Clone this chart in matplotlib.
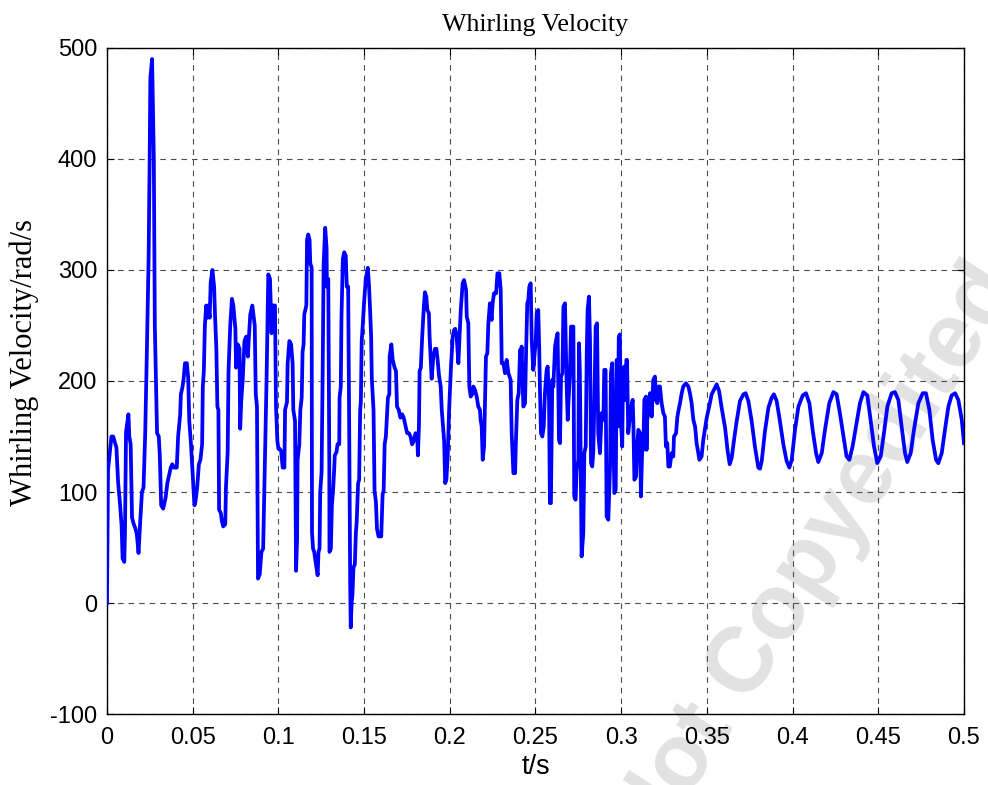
import matplotlib
matplotlib.use("Agg")
import matplotlib.pyplot as plt
import numpy as np

# (t [s], whirling velocity [rad/s]), by time window
seg_0_005 = [
    (0.0000, 0), (0.0006, 120), (0.0026, 150), (0.0036, 150), (0.0055, 140), (0.0065, 108),
    (0.0075, 91), (0.0085, 70), (0.0091, 40), (0.0101, 37), (0.0105, 65), (0.0111, 154),
    (0.0125, 170), (0.0130, 150), (0.0138, 143), (0.0146, 77), (0.0154, 72), (0.0166, 67),
    (0.0174, 62), (0.0184, 45), (0.0194, 74), (0.0204, 100), (0.0213, 104), (0.0223, 153),
    (0.0233, 230), (0.0243, 313), (0.0249, 403), (0.0253, 473), (0.0263, 490), (0.0273, 403),
    (0.0279, 250), (0.0292, 153), (0.0302, 150), (0.0308, 133), (0.0316, 88), (0.0328, 85),
    (0.0342, 95), (0.0352, 108), (0.0362, 115), (0.0372, 122), (0.0381, 125), (0.0391, 122),
    (0.0407, 122), (0.0415, 150), (0.0427, 170), (0.0431, 188), (0.0441, 195), (0.0447, 202),
    (0.0455, 216), (0.0466, 216), (0.0474, 202), (0.0480, 164), (0.0490, 143), (0.0500, 115),
    (0.0510, 88),
]
seg_005_010 = [
    (0.0516, 91), (0.0526, 104), (0.0536, 125), (0.0545, 129), (0.0555, 143), (0.0559, 195),
    (0.0565, 209), (0.0571, 250), (0.0579, 268), (0.0585, 257), (0.0591, 268), (0.0599, 257),
    (0.0605, 289), (0.0615, 300), (0.0625, 285), (0.0630, 260), (0.0638, 229), (0.0644, 177),
    (0.0650, 174), (0.0654, 84), (0.0664, 81), (0.0670, 74), (0.0678, 69), (0.0690, 71),
    (0.0694, 104), (0.0704, 136), (0.0709, 209), (0.0719, 250), (0.0729, 274), (0.0737, 268),
    (0.0749, 247), (0.0753, 212), (0.0763, 233), (0.0773, 229), (0.0777, 157), (0.0783, 181),
    (0.0792, 202), (0.0802, 236), (0.0812, 240), (0.0822, 222), (0.0828, 240), (0.0836, 260),
    (0.0848, 268), (0.0862, 250), (0.0868, 188), (0.0875, 177), (0.0881, 22), (0.0891, 26),
    (0.0901, 46), (0.0911, 49), (0.0921, 125), (0.0931, 202), (0.0941, 296), (0.0951, 292),
    (0.0960, 243), (0.0966, 268), (0.0980, 268), (0.0986, 177), (0.0994, 146), (0.1000, 139),
]
seg_010_015 = [
    (0.1006, 139), (0.1016, 137), (0.1025, 122), (0.1035, 122), (0.1039, 174), (0.1050, 181),
    (0.1054, 216), (0.1064, 236), (0.1074, 233), (0.1083, 216), (0.1087, 174), (0.1097, 164),
    (0.1103, 29), (0.1109, 57), (0.1112, 129), (0.1122, 143), (0.1128, 174), (0.1136, 185),
    (0.1141, 226), (0.1147, 233), (0.1151, 260), (0.1157, 264), (0.1163, 268), (0.1167, 327),
    (0.1174, 332), (0.1182, 327), (0.1186, 306), (0.1194, 302), (0.1196, 64), (0.1202, 49),
    (0.1209, 46), (0.1219, 35), (0.1229, 25), (0.1234, 46), (0.1240, 49), (0.1244, 100),
    (0.1252, 118), (0.1258, 205), (0.1264, 306), (0.1267, 316), (0.1273, 338), (0.1281, 320),
    (0.1283, 285), (0.1291, 292), (0.1297, 125), (0.1298, 46), (0.1306, 49), (0.1312, 88),
    (0.1320, 104), (0.1326, 122), (0.1329, 133), (0.1339, 136), (0.1345, 143), (0.1355, 143),
    (0.1357, 185), (0.1364, 195), (0.1368, 257), (0.1376, 310), (0.1384, 316), (0.1393, 313),
    (0.1399, 285), (0.1407, 285), (0.1413, 160), (0.1419, 14), (0.1422, -22), (0.1428, 2),
    (0.1432, 7), (0.1438, 32), (0.1446, 35), (0.1452, 63), (0.1457, 74), (0.1465, 108),
    (0.1471, 111), (0.1477, 174), (0.1481, 181), (0.1486, 236), (0.1492, 250), (0.1500, 271),
    (0.1510, 292),
]
seg_015_020 = [
    (0.1522, 302), (0.1529, 285), (0.1535, 264), (0.1541, 240), (0.1545, 202), (0.1555, 174),
    (0.1561, 101), (0.1569, 91), (0.1575, 67), (0.1584, 60), (0.1600, 60), (0.1608, 98),
    (0.1614, 101), (0.1620, 143), (0.1627, 150), (0.1633, 167), (0.1639, 185), (0.1647, 188),
    (0.1649, 222), (0.1659, 233), (0.1667, 219), (0.1678, 212), (0.1686, 209), (0.1692, 177),
    (0.1702, 174), (0.1712, 167), (0.1722, 170), (0.1731, 167), (0.1741, 160), (0.1751, 153),
    (0.1761, 153), (0.1771, 150), (0.1780, 143), (0.1790, 146), (0.1800, 153), (0.1810, 150),
    (0.1814, 133), (0.1820, 160), (0.1824, 209), (0.1831, 212), (0.1839, 240), (0.1849, 268),
    (0.1855, 280), (0.1863, 276), (0.1869, 264), (0.1878, 261), (0.1882, 240), (0.1888, 222),
    (0.1894, 202), (0.1904, 222), (0.1914, 229), (0.1922, 229), (0.1929, 219), (0.1937, 205),
    (0.1947, 195), (0.1953, 174), (0.1967, 146), (0.1973, 108), (0.1980, 111), (0.1988, 133),
    (0.1996, 174),
]
seg_020_025 = [
    (0.2007, 213), (0.2017, 240), (0.2025, 246), (0.2032, 247), (0.2040, 240), (0.2050, 216),
    (0.2056, 237), (0.2064, 264), (0.2075, 288), (0.2083, 291), (0.2095, 282), (0.2099, 258),
    (0.2108, 252), (0.2114, 195), (0.2122, 186), (0.2134, 189), (0.2137, 195), (0.2147, 192),
    (0.2157, 186), (0.2166, 177), (0.2176, 174), (0.2180, 165), (0.2186, 159), (0.2192, 129),
    (0.2200, 141), (0.2205, 177), (0.2211, 222), (0.2219, 225), (0.2225, 252), (0.2234, 270),
    (0.2244, 255), (0.2250, 270), (0.2258, 279), (0.2270, 279), (0.2278, 297), (0.2289, 297),
    (0.2297, 282), (0.2303, 216), (0.2313, 216), (0.2322, 207), (0.2332, 219), (0.2342, 207),
    (0.2355, 201), (0.2361, 153), (0.2371, 117), (0.2381, 117), (0.2386, 147), (0.2394, 183),
    (0.2402, 189), (0.2410, 228), (0.2414, 213), (0.2419, 231), (0.2429, 177), (0.2439, 180),
    (0.2445, 225), (0.2452, 270), (0.2458, 273), (0.2464, 285), (0.2472, 288), (0.2478, 237),
    (0.2487, 210), (0.2497, 228),
]
seg_025_030 = [
    (0.2501, 234), (0.2507, 261), (0.2516, 264), (0.2522, 228), (0.2526, 192), (0.2532, 153),
    (0.2540, 150), (0.2548, 159), (0.2555, 189), (0.2565, 210), (0.2571, 213), (0.2579, 183),
    (0.2584, 90), (0.2590, 90), (0.2598, 201), (0.2604, 195), (0.2614, 231), (0.2624, 240),
    (0.2629, 243), (0.2637, 147), (0.2643, 144), (0.2649, 204), (0.2657, 207), (0.2663, 267),
    (0.2672, 270), (0.2682, 195), (0.2688, 165), (0.2691, 177), (0.2701, 207), (0.2707, 249),
    (0.2721, 249), (0.2726, 96), (0.2734, 93), (0.2740, 120), (0.2750, 129), (0.2754, 234),
    (0.2759, 207), (0.2769, 42), (0.2779, 63), (0.2785, 135), (0.2793, 141), (0.2799, 225),
    (0.2804, 264), (0.2812, 276), (0.2818, 237), (0.2824, 126), (0.2831, 123), (0.2837, 135),
    (0.2843, 177), (0.2851, 249), (0.2859, 252), (0.2866, 153), (0.2876, 135), (0.2886, 171),
    (0.2896, 165), (0.2901, 210), (0.2909, 210), (0.2915, 78), (0.2925, 75), (0.2935, 123),
    (0.2940, 207), (0.2948, 216), (0.2960, 99), (0.2968, 102),
]
seg_030_035 = [
    (0.2974, 219), (0.2980, 159), (0.2986, 240), (0.2992, 242), (0.3000, 159), (0.3006, 141),
    (0.3011, 210), (0.3018, 213), (0.3024, 183), (0.3030, 219), (0.3034, 219), (0.3041, 153),
    (0.3047, 162), (0.3055, 174), (0.3067, 183), (0.3071, 162), (0.3077, 111), (0.3087, 114),
    (0.3094, 144), (0.3100, 156), (0.3110, 153), (0.3115, 96), (0.3123, 141), (0.3129, 138),
    (0.3135, 183), (0.3145, 186), (0.3148, 138), (0.3152, 165), (0.3158, 171), (0.3168, 189),
    (0.3178, 168), (0.3187, 201), (0.3197, 204), (0.3203, 183), (0.3211, 180), (0.3217, 195),
    (0.3226, 195), (0.3236, 180), (0.3246, 171), (0.3255, 168), (0.3261, 141), (0.3269, 144),
    (0.3275, 123), (0.3284, 123), (0.3294, 135), (0.3304, 132), (0.3308, 150), (0.3320, 153),
    (0.3328, 168), (0.3335, 174), (0.3343, 180), (0.3353, 189), (0.3362, 195), (0.3378, 198),
    (0.3392, 195), (0.3401, 189), (0.3411, 180), (0.3421, 165), (0.3431, 159), (0.3440, 144),
    (0.3450, 135), (0.3456, 129), (0.3469, 132), (0.3479, 147),
]
seg_steady = [
    (0.3499, 167), (0.3512, 176), (0.3528, 188), (0.3547, 194), (0.3557, 197), (0.3571, 191),
    (0.3586, 176), (0.3606, 158), (0.3621, 137), (0.3633, 125), (0.3645, 131), (0.3660, 149),
    (0.3674, 164), (0.3693, 182), (0.3713, 188), (0.3726, 189), (0.3742, 182), (0.3761, 164),
    (0.3781, 140), (0.3800, 122), (0.3810, 121), (0.3820, 128), (0.3839, 155), (0.3859, 176),
    (0.3878, 185), (0.3891, 188), (0.3907, 182), (0.3926, 164), (0.3946, 143), (0.3965, 128),
    (0.3981, 122), (0.3995, 129), (0.4014, 156), (0.4034, 177), (0.4059, 187), (0.4078, 189),
    (0.4098, 180), (0.4117, 156), (0.4137, 135), (0.4150, 127), (0.4170, 135), (0.4189, 156),
    (0.4214, 180), (0.4238, 190), (0.4257, 188), (0.4276, 171), (0.4300, 147), (0.4315, 132),
    (0.4331, 129), (0.4350, 141), (0.4370, 159), (0.4393, 180), (0.4413, 190), (0.4436, 187),
    (0.4455, 165), (0.4475, 141), (0.4494, 126), (0.4514, 132), (0.4533, 153), (0.4553, 177),
    (0.4578, 189), (0.4597, 190), (0.4617, 183), (0.4636, 159), (0.4656, 135), (0.4669, 127),
    (0.4689, 135), (0.4708, 156), (0.4734, 180), (0.4759, 189), (0.4778, 189), (0.4798, 174),
    (0.4817, 147), (0.4837, 129), (0.4850, 126), (0.4870, 135), (0.4889, 156), (0.4909, 177),
    (0.4928, 187), (0.4948, 189), (0.4967, 183), (0.4987, 165), (0.5000, 144),
]

x_ticks = [0, 0.05, 0.1, 0.15, 0.2, 0.25, 0.3, 0.35, 0.4, 0.45, 0.5]
x_tick_labels = ["0", "0.05", "0.1", "0.15", "0.2", "0.25", "0.3", "0.35", "0.4", "0.45", "0.5"]
y_ticks = [-100, 0, 100, 200, 300, 400, 500]
y_tick_labels = ["-100", "0", "100", "200", "300", "400", "500"]

data = np.array(seg_0_005 + seg_005_010 + seg_010_015 + seg_015_020
                + seg_020_025 + seg_025_030 + seg_030_035 + seg_steady)
t, w = data[:, 0], data[:, 1]

fig = plt.figure(figsize=(9.88, 7.85), dpi=100, facecolor="white")
ax = fig.add_axes([0.1083, 0.0904, 0.8674, 0.8485])
ax.set_facecolor("none")

ax.plot(t, w, color=(0, 0, 1), linewidth=2.7, solid_joinstyle="round", zorder=3)

ax.set_xlim(0, 0.5)
ax.set_ylim(-100, 500)
ax.set_xticks(x_ticks)
ax.set_xticklabels(x_tick_labels, family="Liberation Sans", fontsize=17)
ax.set_yticks(y_ticks)
ax.set_yticklabels(y_tick_labels, family="Liberation Sans", fontsize=17)
ax.tick_params(direction="in", length=5, width=0.8, top=True, right=True)
ax.tick_params(axis="x", pad=9)
ax.tick_params(axis="y", pad=7)
ax.grid(True, linestyle=(0, (5, 4.5)), color="0.3", linewidth=0.8)
ax.set_axisbelow(True)
for s in ax.spines.values():
    s.set_linewidth(1.0)

ax.set_title("Whirling Velocity", family="Liberation Serif", fontsize=18.7, pad=12)
ax.set_xlabel("t/s", family="Liberation Sans", fontsize=19.5, labelpad=4)
ax.set_ylabel("Whirling Velocity/rad/s", family="Liberation Serif", fontsize=22, va="center")
ax.yaxis.set_label_coords(-0.097, 0.5285)

fig.text(0.825, 0.29, "Not Copyedited", rotation=57, rotation_mode="anchor",
         ha="center", va="center", fontsize=66, fontweight="bold",
         family="Liberation Sans", color="#e2e2e2", zorder=-1)

fig.savefig("out.png", dpi=100)
